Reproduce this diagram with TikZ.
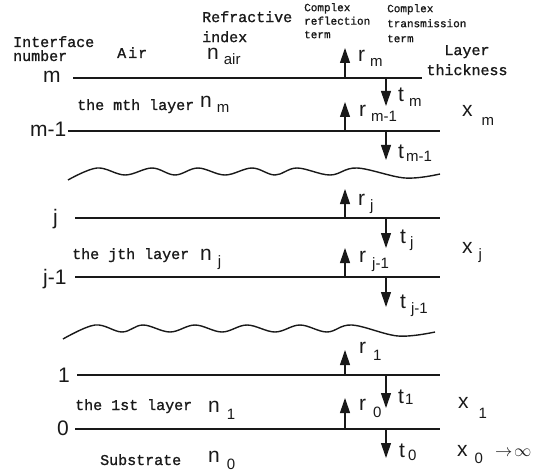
\documentclass[tikz,border=0pt]{standalone}
\usepackage{fontspec}
\setmainfont{Liberation Mono}[FakeBold=1.2]
\newfontfamily\symfont{Liberation Sans}
\usetikzlibrary{arrows.meta, positioning}
\definecolor{ink}{RGB}{25, 25, 25}
\newcommand{\subf}{\symfont\fontsize{15}{15}\selectfont}
\newcommand{\lbl}[3][5pt]{#2\hspace{#1}\raisebox{-#1}{\subf #3}}
\tikzset{
	iface/.style={draw=ink, line width=1.3pt},
	wave/.style={draw=ink, line width=1.4pt},
	refl/.style={-{Triangle[length=15pt, width=10pt]}, draw=ink, line width=1.1pt},
	word/.style={font=\fontsize{15}{13}\selectfont, text=ink, inner sep=0pt, anchor=base west},
	headword/.style={font=\fontsize{15}{20}\selectfont, text=ink, inner sep=0pt, align=left, anchor=north west},
	tinyword/.style={font=\fontsize{11}{13.5}\selectfont, text=ink, inner sep=0pt, align=left, anchor=north west},
	sym/.style={font=\symfont\fontsize{21}{21}\selectfont, text=ink, inner sep=0pt, anchor=base west},
}

\begin{document}
\begin{tikzpicture}[x=1pt, y=-1pt]
	\useasboundingbox (0,0) rectangle (548,473);
	\foreach \id/\yy/\xa/\xb in {m/78/73/422, m1/131/68/440, j/218/75/440, j1/277/75/440, one/375/77/440, zero/429/75/440}{
		\coordinate (L\id) at (\xa,\yy);
		\coordinate (R\id) at (\xb,\yy);
		\draw[iface] (L\id) -- (R\id);
	}
	\foreach \id/\yy/\ru/\td in {m/78/48/106, m1/131/102/160, j/218/189/248, j1/277/248/307, one/375/350/408, zero/429/398/458}{
		\coordinate (up\id) at (345,\yy);
		\coordinate (ru\id) at (345,\ru);
		\coordinate (dn\id) at (386,\yy);
		\coordinate (td\id) at (386,\td);
		\draw[refl] (up\id) -- (ru\id);
		\draw[refl] (dn\id) -- (td\id);
	}
	\draw[wave] plot[smooth, tension=0.6] coordinates {(68,180) (97,168) (125,175) (152,168) (175,175) (198,168) (225,175) (252,168) (275,175) (297,168) (330,175) (357,168) (405,178) (440,174)};
	\draw[wave] plot[smooth, tension=0.6] coordinates {(63,339) (95,325) (122,332) (143,325) (170,332) (195,325) (222,332) (247,325) (275,332) (300,325) (327,332) (352,325) (398,336) (435,332)};

	\node[word] (iface) at (13,47) {Interface};
	\node[word] (ifnum) at (13,61) {number};
	\node[word] (air) at (117,58) {A\hspace{2pt}i\hspace{1pt}r};
	\node[headword] (refr) at (202,11) {Refractive\\index};
	\node[tinyword] (crefl) at (304,3) {Complex\\reflection\\term};
	\node[tinyword, font=\fontsize{11}{15}\selectfont] (ctrans) at (387,4) {Complex\\transmission\\term};
	\node[headword, align=center, anchor=north] (thick) at (467,45) {Layer\\thickness};

	\node[sym] (im) at (43,83) {m};
	\node[sym] (im1) at (30,137) {m-1};
	\node[sym] (ij) at (53,224) {j};
	\node[sym] (ij1) at (43,284) {j-1};
	\node[sym] (ione) at (58,382) {1};
	\node[sym] (izero) at (57,435) {0};

	\node[word] (layerm) at (77,110) {the mth layer};
	\node[word] (layerj) at (72,259) {the jth layer};
	\node[word] (layer1) at (75,410) {the 1st layer};
	\node[word] (subst) at (100,465) {Substrate};

	\node[sym] (nair) at (207,60) {\lbl{n}{air}};
	\node[sym] (nm) at (200,108) {\lbl{n}{m}};
	\node[sym] (nj) at (200,260) {\lbl[6pt]{n}{j}};
	\node[sym] (n1) at (208,412) {\lbl[7pt]{n}{1}};
	\node[sym] (n0) at (208,462) {\lbl[7pt]{n}{0}};

	\node[sym] (rm) at (358,62) {\lbl{r}{m}};
	\node[sym] (rm1) at (359,117) {\lbl{r}{m-1}};
	\node[sym] (rj) at (358,205) {\lbl{r}{j}};
	\node[sym] (rj1) at (359,262) {\lbl[6pt]{r}{j-1}};
	\node[sym] (r1) at (359,353) {\lbl[7pt]{r}{1}};
	\node[sym] (r0) at (359,410) {\lbl[7pt]{r}{0}};

	\node[sym] (tm) at (398,102) {\lbl{t}{m}};
	\node[sym] (tm1) at (398,159) {\lbl[2pt]{t}{m-1}};
	\node[sym] (tj) at (400,243) {\lbl[4pt]{t}{j}};
	\node[sym] (tj1) at (400,308) {\lbl[5pt]{t}{j-1}};
	\node[sym] (t1) at (398,403) {\lbl[1pt]{t}{1}};
	\node[sym] (t0) at (399,457) {\lbl[3pt]{t}{0}};

	\node[sym] (xm) at (462,117) {\lbl[9pt]{x}{m}};
	\node[sym] (xj) at (462,253) {\lbl[6pt]{x}{j}};
	\node[sym] (x1) at (458,408) {\lbl[10pt]{x}{1}};
	\node[sym] (x0) at (457,456) {\lbl[7pt]{x}{0}\hspace{12pt}{\fontsize{16}{16}\selectfont$\rightarrow\!\infty$}};
\end{tikzpicture}
\end{document}
